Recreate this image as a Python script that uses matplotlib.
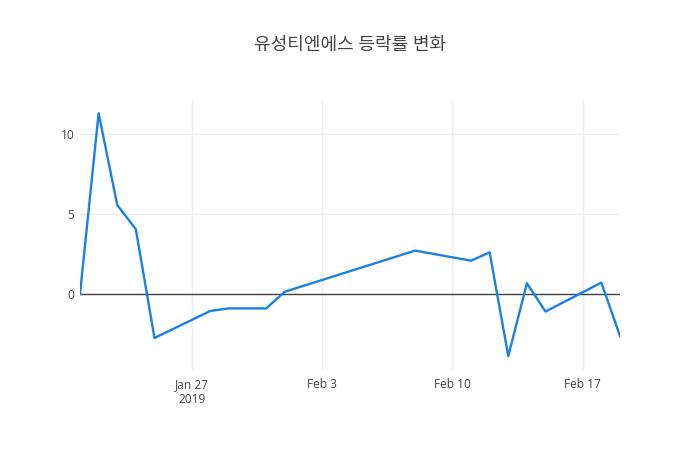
import matplotlib
matplotlib.use("Agg")
import numpy as np
import matplotlib.pyplot as plt
import matplotlib.dates as mdates
from datetime import datetime

plt.rcParams['font.family'] = ['Open Sans', 'Noto Sans CJK KR', 'DejaVu Sans']

title = "유성티엔에스 등락률 변화"

dates = ["2019-01-21", "2019-01-22", "2019-01-23", "2019-01-24", "2019-01-25",
         "2019-01-28", "2019-01-29", "2019-01-30", "2019-01-31", "2019-02-01",
         "2019-02-08", "2019-02-11", "2019-02-12", "2019-02-13", "2019-02-14",
         "2019-02-15", "2019-02-18", "2019-02-19"]
rates = [0.0, 11.29, 5.56, 4.04, -2.75,
         -1.06, -0.9, -0.9, -0.9, 0.14,
         2.71, 2.08, 2.6, -3.88, 0.67,
         -1.1, 0.71, -2.63]

tick_dates = ["2019-01-27", "2019-02-03", "2019-02-10", "2019-02-17"]
tick_labels = ["Jan 27\n2019", "Feb 3", "Feb 10", "Feb 17"]
y_ticks = [0, 5, 10]

x = [datetime.strptime(d, "%Y-%m-%d") for d in dates]
xt = [datetime.strptime(d, "%Y-%m-%d") for d in tick_dates]

fig = plt.figure(figsize=(7, 4.5), dpi=100)
ax = fig.add_axes([80 / 700, 80 / 450, 540 / 700, 270 / 450])

ax.plot(x, rates, color="#1a80e6", linewidth=1.7, zorder=3)
ax.axhline(0, color="#444444", linewidth=1, zorder=2)

ax.set_xlim(x[0], x[-1])
ax.set_ylim(-4.75, 12.12)

ax.set_xticks(xt)
ax.set_xticklabels(tick_labels)
ax.set_yticks(y_ticks)
ax.grid(True, color="#eeeeee", linewidth=1, zorder=0)
for s in ax.spines.values():
    s.set_visible(False)
ax.tick_params(axis="both", length=0, labelsize=8.6, labelcolor="#444444")
ax.tick_params(axis="x", pad=6)
ax.tick_params(axis="y", pad=4)

fig.text(0.5, 1 - 45 / 450, title, ha="center", va="center",
         fontsize=13, color="#444444")

fig.savefig("out.png", dpi=100)
